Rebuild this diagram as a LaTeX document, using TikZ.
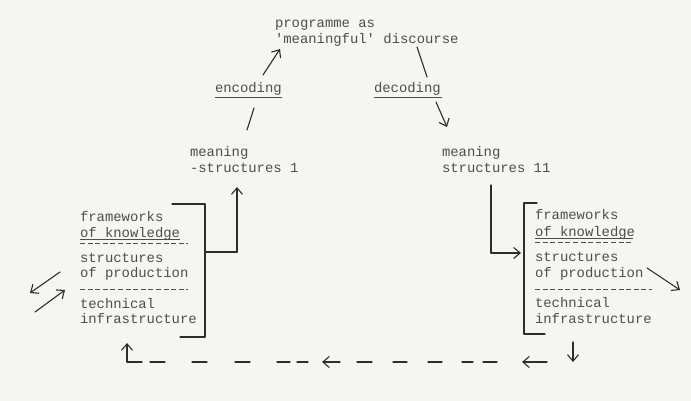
\documentclass[tikz,border=0pt]{standalone}
\usepackage{fontspec}
\setmonofont{Liberation Mono}
\usetikzlibrary{arrows.meta}
\definecolor{paper}{RGB}{245,245,243}
\definecolor{ink}{RGB}{78,78,78}
\definecolor{pen}{RGB}{45,45,45}
\tikzset{
  txt/.style={anchor=base west,inner sep=0pt,outer sep=0pt,text=ink,font=\ttfamily\fontsize{13.9}{16}\selectfont},
  pl/.style={draw=pen,line width=1.1pt,line cap=round,line join=round},
  arr/.style={pl,-{Straight Barb[length=6.5pt,width=11pt,line width=1.1pt]}},
  und/.style={draw=ink,line width=0.9pt},
  typed/.style={draw=ink,line width=1pt,dash pattern=on 5pt off 2.6pt}
}
\begin{document}
\begin{tikzpicture}[x=1pt,y=-1pt]
\fill[paper] (0,0) rectangle (691,401);
\useasboundingbox (0,0) rectangle (691,401);

% top
\node[txt] (prog1) at (275,28) {programme as};
\node[txt] (prog2) at (275,44) {'meaningful' discourse};
\node[txt] (enc) at (215,93) {encoding};
\node[txt] (dec) at (374,93) {decoding};
\draw[und] (215,97.5) -- (282,97.5);
\draw[und] (374,97.5) -- (442,97.5);

% meaning structures
\node[txt] (ms1a) at (190,157) {meaning};
\node[txt] (ms1b) at (190,172) {-structures 1};
\node[txt] (ms2a) at (442,157) {meaning};
\node[txt] (ms2b) at (442,172) {structures 11};

% encoding / decoding strokes
\coordinate (e1) at (247,130); \coordinate (e2) at (254,108);
\coordinate (e3) at (263,75);  \coordinate (e4) at (280,49);
\draw[pl] (e1) -- (e2);
\draw[arr] (e3) -- (e4);
\coordinate (d1) at (417,47); \coordinate (d2) at (427,77);
\coordinate (d3) at (436,102); \coordinate (d4) at (447,127);
\draw[pl] (d1) -- (d2);
\draw[arr] (d3) -- (d4);

% left box
\node[txt] (lf1) at (80,222) {frameworks};
\node[txt] (lf2) at (80,237) {of knowledge};
\node[txt] (lp1) at (80,262) {structures};
\node[txt] (lp2) at (80,277) {of production};
\node[txt] (lt1) at (80,308) {technical};
\node[txt] (lt2) at (80,323) {infrastructure};
\draw[und] (80,239.5) -- (180,239.5);
\draw[typed] (80,243) -- (188,243);
\draw[typed] (80,289) -- (188,289);
\draw[pl] (172,204) -- (205,204) -- (205,337) -- (180,337);
\coordinate (lj) at (205,252);
\coordinate (lc) at (237,252);
\coordinate (lu) at (237,187);
\draw[pl] (lj) -- (lc);
\draw[arr] (lc) -- (lu);

% left side arrows
\draw[arr] (60,272) -- (30,293);
\draw[arr] (35,312) -- (65,290);

% right box
\node[txt] (rf1) at (535,219) {frameworks};
\node[txt] (rf2) at (535,236) {of knowledge};
\node[txt] (rp1) at (535,261) {structures};
\node[txt] (rp2) at (535,277) {of production};
\node[txt] (rt1) at (535,307) {technical};
\node[txt] (rt2) at (535,323) {infrastructure};
\draw[und] (535,238.5) -- (633,238.5);
\draw[typed] (535,242) -- (633,242);
\draw[typed] (535,289) -- (652,289);
\draw[pl] (537,203) -- (524,203) -- (524,334) -- (545,334);
\coordinate (rs) at (491,185);
\coordinate (rc) at (491,253);
\coordinate (rj) at (521,253);
\draw[pl] (rs) -- (rc);
\draw[arr] (rc) -- (rj);
\draw[arr] (647,268) -- (680,290);

% bottom return path
\draw[arr] (573,342) -- (573,362);
\draw[arr] (547,362) -- (522,362);
\foreach \a/\b in {483/497,462/473,428/442,393/407,357/372}
  \draw[pl] (\a,362) -- (\b,362);
\draw[arr] (340,362) -- (322,362);
\foreach \a/\b in {150/165,192/207,235/250,277/290,297/308}
  \draw[pl] (\a,362) -- (\b,362);
\draw[arr] (142,362) -- (127,362) -- (127,343);
\end{tikzpicture}
\end{document}
